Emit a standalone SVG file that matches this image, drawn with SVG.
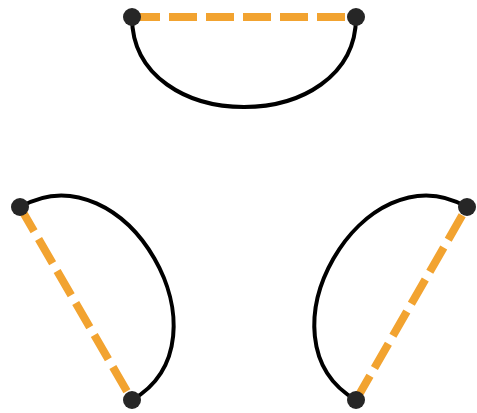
<svg xmlns="http://www.w3.org/2000/svg" width="477" height="413" viewBox="0 0 477 413">
<style>
.dash{fill:none;stroke:#F2A330;stroke-width:8;stroke-dasharray:28 9}
.arc{fill:none;stroke:#000;stroke-width:4}
.node{fill:#262626}
</style>
<rect width="477" height="413" fill="#fff"/>
<g id="connectors">
<path class="dash" d="M132,17 L356,17"/>
<path class="arc" d="M132,17 C132,137 356,137 356,17"/>
<path class="dash" d="M20,207 L132,400"/>
<path class="arc" d="M20,207 C125,147 236,340 132,400"/>
<path class="dash" d="M356,400 L467,207"/>
<path class="arc" d="M467,207 C363,147 252,340 356,400"/>
</g>
<g id="n1"><circle class="node" cx="132" cy="17" r="9"/></g>
<g id="n2"><circle class="node" cx="356" cy="17" r="9"/></g>
<g id="n3"><circle class="node" cx="20" cy="207" r="9"/></g>
<g id="n4"><circle class="node" cx="132" cy="400" r="9"/></g>
<g id="n5"><circle class="node" cx="467" cy="207" r="9"/></g>
<g id="n6"><circle class="node" cx="356" cy="400" r="9"/></g>
</svg>
